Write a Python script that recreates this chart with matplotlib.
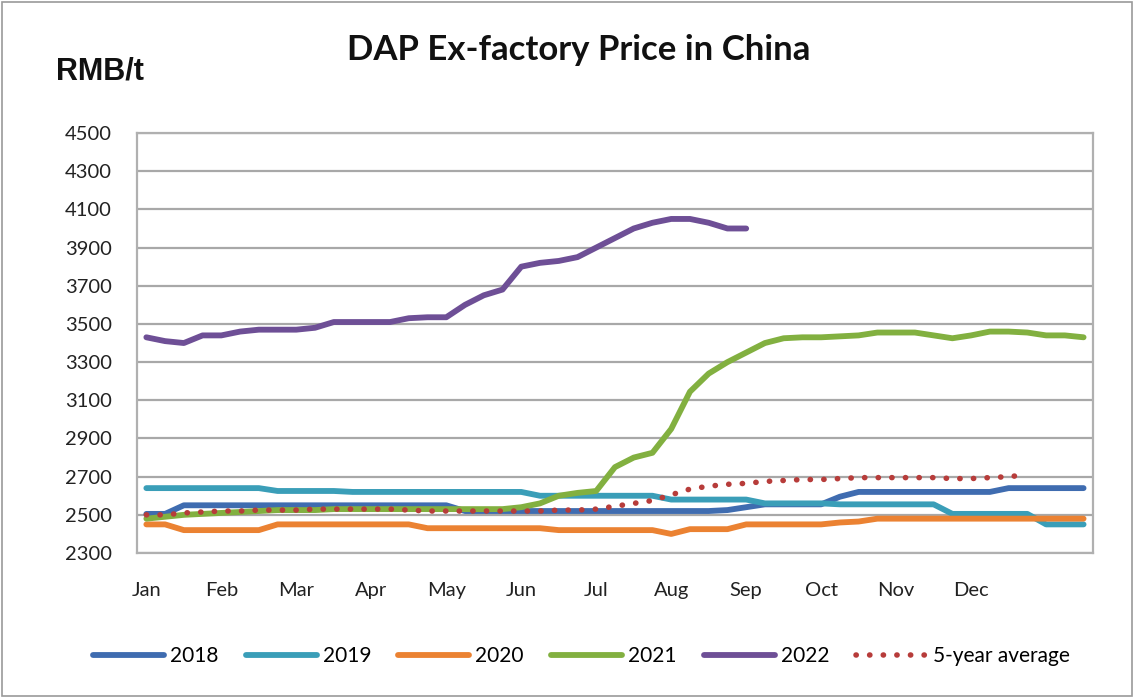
import matplotlib
matplotlib.use('Agg')
import matplotlib.pyplot as plt
from matplotlib.patches import Rectangle

# weekly categories, month label every 4th week
months = ['Jan', 'Feb', 'Mar', 'Apr', 'May', 'Jun', 'Jul', 'Aug', 'Sep', 'Oct', 'Nov', 'Dec']
n_weeks = 51

y2018 = [2505, 2505] + [2550] * 15 + [2520] * 14 + [2525, 2540] + [2555] * 4 + [2595] + [2620] * 8 + [2640] * 5
y2019 = [2640] * 7 + [2625] * 4 + [2620] * 10 + [2600] * 7 + [2580] * 5 + [2560] * 4 + [2555] * 6 + [2505] * 5 + [2450] * 3
y2020 = [2450] * 2 + [2420] * 5 + [2450] * 8 + [2430] * 7 + [2420] * 6 + [2400] + [2425] * 3 + [2450] * 5 + [2460, 2465] + [2480] * 12
y2021 = [2480, 2490, 2500, 2505, 2510, 2515, 2520, 2525, 2525, 2525] + [2530] * 10 + \
        [2540, 2560, 2600, 2615, 2625, 2750, 2800, 2825, 2950, 3145, 3240, 3300, 3350, 3400, 3425,
         3430, 3430, 3435, 3440, 3455, 3455, 3455, 3440, 3425, 3440, 3460, 3460, 3455, 3440, 3440, 3430]
y2022 = [3430, 3410, 3400, 3440, 3440, 3460, 3470, 3470, 3470, 3480, 3510, 3510, 3510, 3510, 3530, 3535, 3535,
         3600, 3650, 3680, 3800, 3820, 3830, 3850, 3900, 3950, 4000, 4030, 4050, 4050, 4030, 4000, 4000]
avg5 = [2500, 2500, 2510, 2515, 2520, 2520, 2525, 2525, 2525, 2530, 2530, 2530, 2530, 2530, 2525, 2520,
        2520, 2520, 2520, 2520, 2520, 2520, 2525, 2525, 2530, 2545, 2560, 2575, 2605, 2635, 2650, 2660,
        2665, 2675, 2680, 2685, 2685, 2690, 2695, 2695, 2695, 2695, 2695, 2690, 2690, 2695, 2700, 2710]

series = [('2018', y2018, '#3F6CB0'), ('2019', y2019, '#3A9EB8'), ('2020', y2020, '#EB8232'),
          ('2021', y2021, '#82B040'), ('2022', y2022, '#6E4F96')]

plt.rcParams['font.family'] = ['Lato', 'DejaVu Sans']

fig = plt.figure(figsize=(11.34, 6.98), dpi=100)
fig.patches.append(Rectangle((0.002, 0.003), 0.996, 0.994, transform=fig.transFigure,
                             fill=False, edgecolor='#9a9a9a', linewidth=1.2))
ax = fig.add_axes([0.1208, 0.2077, 0.843, 0.6017])

for name, vals, col in series:
    ax.plot(range(len(vals)), vals, color=col, lw=4.2, solid_capstyle='round',
            solid_joinstyle='round', label=name)
ax.plot(range(len(avg5)), avg5, color='#B73C3A', lw=4.0, linestyle=(0, (0.05, 2.4)),
        dash_capstyle='round', label='5-year average')

ax.set_xlim(-0.5, n_weeks - 0.5)
ax.set_ylim(2300, 4500)
ax.set_yticks(range(2300, 4501, 200))
ax.set_xticks(range(0, 48, 4))
ax.set_xticklabels(months)
ax.tick_params(axis='both', length=0, labelsize=14.5, colors='#222222')
ax.tick_params(axis='x', pad=21)
ax.tick_params(axis='y', pad=18)
ax.grid(axis='y', color='#a8a8a8', lw=1.6)
ax.set_axisbelow(True)
for s in ax.spines.values():
    s.set_color('#b0b0b0')
    s.set_linewidth(1.6)

fig.text(0.51, 0.928, 'DAP Ex-factory Price in China', ha='center', va='center',
         fontsize=25, fontweight='bold', color='#111111')
fig.text(0.049, 0.898, 'RMB/t', ha='left', va='center', fontsize=22, fontweight='bold',
         family='Liberation Sans', color='#111111')

fig.legend(loc='center', bbox_to_anchor=(0.513, 0.06), ncol=6, frameon=False, fontsize=15,
           handlelength=3.4, handletextpad=0.3, columnspacing=1.3)

fig.savefig('out.png', dpi=100)
